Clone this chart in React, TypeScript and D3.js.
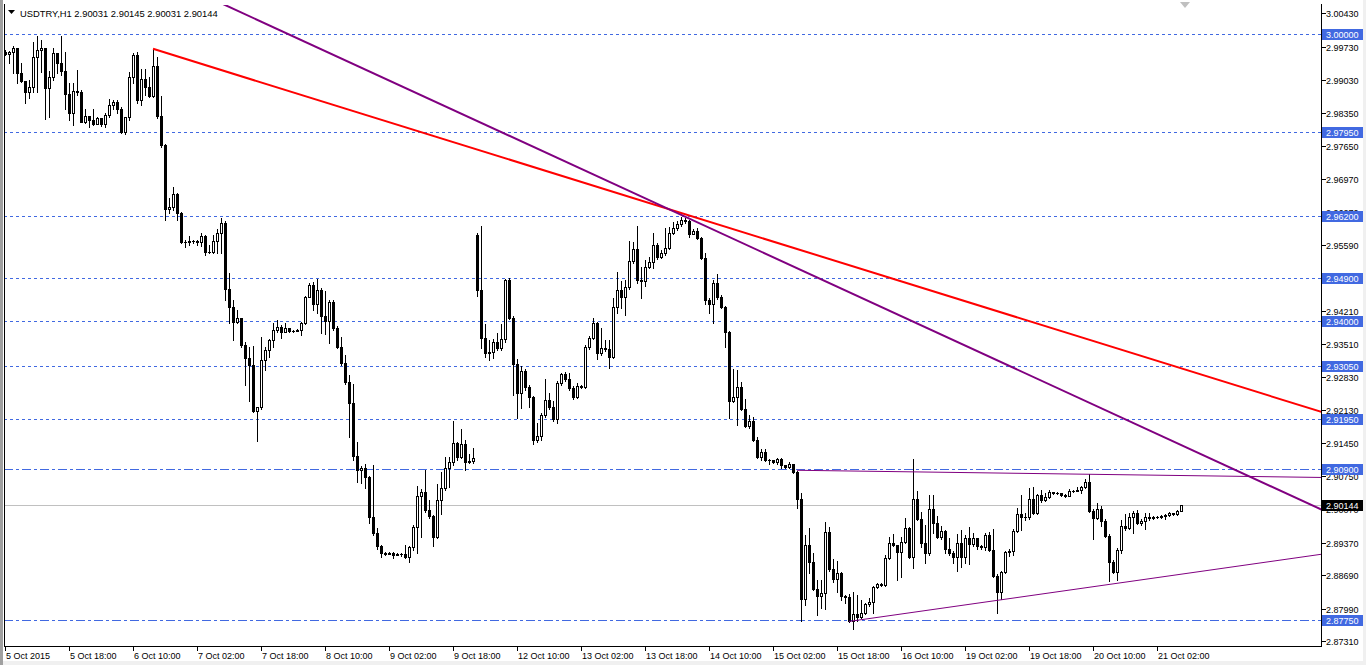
import React from 'react';
import * as d3 from 'd3';

// ---------- DATA (USDTRY, H1) ----------
const symbolTitle = 'USDTRY,H1';
const lastBarOHLC = [2.90031, 2.90145, 2.90031, 2.90144];

// opens equal the previous close, except at session starts
const sessionOpens = [
  { bar: 0, open: 2.9962 },
  { bar: 118, open: 2.958 },
  { bar: 294, open: 2.90031 },
];

const closes = [
  2.9958, 2.9962, 2.9971, 2.9918, 2.9902, 2.9879, 2.9889, 2.9952, 2.9967, 2.9971,
  2.9887, 2.991, 2.996, 2.9939, 2.9923, 2.9875, 2.9835, 2.9881, 2.9879, 2.9816,
  2.9829, 2.982, 2.9812, 2.9824, 2.9812, 2.9831, 2.9852, 2.9858, 2.9843, 2.9795,
  2.9826, 2.991, 2.9956, 2.9862, 2.9906, 2.9889, 2.987, 2.9933, 2.9829, 2.9768,
  2.9634, 2.9638, 2.9666, 2.9626, 2.9565, 2.9565, 2.9567, 2.9567, 2.9565, 2.9578,
  2.9544, 2.9544, 2.9567, 2.9584, 2.9605, 2.9467, 2.9429, 2.9398, 2.9406, 2.935,
  2.9323, 2.9308, 2.9212, 2.922, 2.9319, 2.934, 2.936, 2.9381, 2.9388, 2.9377,
  2.9385, 2.9379, 2.9379, 2.9381, 2.9396, 2.945, 2.9475, 2.9436, 2.9465, 2.9411,
  2.94, 2.944, 2.9385, 2.9346, 2.9313, 2.9273, 2.9229, 2.9118, 2.9089, 2.9093,
  2.9074, 2.899, 2.8957, 2.893, 2.8915, 2.8913, 2.8915, 2.8911, 2.8913, 2.8913,
  2.8907, 2.8928, 2.8969, 2.9034, 2.9043, 2.9005, 2.8993, 2.8949, 2.9026, 2.9051,
  2.9093, 2.9105, 2.9145, 2.9116, 2.9143, 2.9105, 2.9107, 2.9114, 2.9465, 2.9365,
  2.9333, 2.9335, 2.9356, 2.9344, 2.9362, 2.9486, 2.9406, 2.931, 2.925, 2.9296,
  2.9262, 2.9241, 2.9151, 2.916, 2.9204, 2.9235, 2.922, 2.9195, 2.9271, 2.9289,
  2.9279, 2.926, 2.9241, 2.9264, 2.9262, 2.9346, 2.9365, 2.9396, 2.9333, 2.9344,
  2.9342, 2.9325, 2.9429, 2.9465, 2.945, 2.9471, 2.9526, 2.9551, 2.9486, 2.9484,
  2.9513, 2.9523, 2.9559, 2.9534, 2.9542, 2.9553, 2.9584, 2.9594, 2.9603, 2.9611,
  2.9609, 2.9582, 2.9588, 2.9574, 2.9532, 2.9444, 2.9436, 2.9479, 2.945, 2.9429,
  2.9377, 2.9233, 2.9241, 2.9262, 2.9216, 2.9181, 2.9191, 2.9151, 2.9116, 2.9126,
  2.911, 2.911, 2.9105, 2.9112, 2.9099, 2.9095, 2.9101, 2.9085, 2.9028, 2.8819,
  2.8932, 2.8896, 2.884, 2.8825, 2.8832, 2.8959, 2.8882, 2.8861, 2.8873, 2.8825,
  2.8823, 2.8773, 2.8788, 2.8781, 2.879, 2.8809, 2.8813, 2.8844, 2.885, 2.8848,
  2.8905, 2.8936, 2.8932, 2.8917, 2.8938, 2.8967, 2.8907, 2.9028, 2.8986, 2.8936,
  2.8915, 2.9007, 2.8978, 2.8949, 2.8961, 2.8924, 2.8915, 2.8907, 2.8936, 2.8907,
  2.8947, 2.8934, 2.8947, 2.893, 2.8928, 2.8953, 2.8922, 2.8867, 2.8834, 2.8876,
  2.8917, 2.8919, 2.8961, 2.8997, 2.899, 2.899, 2.9028, 2.8999, 2.9036, 2.9026,
  2.9032, 2.9043, 2.9041, 2.9041, 2.9036, 2.9034, 2.9045, 2.9045, 2.9047, 2.9053,
  2.9064, 2.9003, 2.8988, 2.9007, 2.8982, 2.8951, 2.8896, 2.8876, 2.8922, 2.8972,
  2.8967, 2.899, 2.8999, 2.8978, 2.8982, 2.899, 2.8988, 2.899, 2.899, 2.8993,
  2.8995, 2.8999, 2.8997, 2.90031, 2.90144,
];

const highs = [
  2.9967, 2.9964, 2.9975, 2.9971, 2.9939, 2.9902, 2.9904, 2.9983, 2.9996, 2.9987,
  2.9971, 2.9923, 2.9971, 2.996, 2.9996, 2.9962, 2.9898, 2.9898, 2.9925, 2.9883,
  2.9843, 2.9829, 2.9843, 2.9826, 2.9824, 2.9835, 2.9864, 2.9862, 2.9862, 2.9847,
  2.9827, 2.9921, 2.996, 2.9962, 2.9927, 2.9927, 2.991, 2.9969, 2.9952, 2.987,
  2.977, 2.9657, 2.968, 2.9668, 2.9628, 2.9569, 2.9578, 2.9569, 2.9569, 2.9584,
  2.958, 2.9559, 2.958, 2.9592, 2.9615, 2.9609, 2.95, 2.9444, 2.9423, 2.9406,
  2.9356, 2.9346, 2.9348, 2.9221, 2.9367, 2.9346, 2.9362, 2.9396, 2.9402, 2.9392,
  2.9396, 2.9383, 2.9381, 2.9383, 2.9398, 2.9452, 2.9479, 2.9481, 2.9488, 2.9469,
  2.9463, 2.9444, 2.9444, 2.939, 2.9367, 2.9329, 2.9287, 2.9268, 2.9147, 2.9097,
  2.9101, 2.9076, 2.9099, 2.8967, 2.8932, 2.8917, 2.8917, 2.8917, 2.8915, 2.8915,
  2.8932, 2.893, 2.8974, 2.9055, 2.9049, 2.9089, 2.9026, 2.8995, 2.9059, 2.9085,
  2.9116, 2.9116, 2.9191, 2.9147, 2.9174, 2.9151, 2.9122, 2.9135, 2.9584, 2.9599,
  2.9394, 2.936, 2.9362, 2.9375, 2.9394, 2.9488, 2.949, 2.9411, 2.9321, 2.9306,
  2.93, 2.9266, 2.9243, 2.9187, 2.9208, 2.9279, 2.925, 2.9233, 2.9275, 2.9291,
  2.9294, 2.9291, 2.9264, 2.9271, 2.9266, 2.935, 2.9369, 2.9406, 2.9398, 2.9385,
  2.936, 2.936, 2.9448, 2.9503, 2.9484, 2.9486, 2.9567, 2.9565, 2.9599, 2.9513,
  2.9528, 2.9534, 2.9584, 2.9563, 2.9549, 2.9594, 2.9597, 2.9607, 2.9609, 2.9617,
  2.9615, 2.9611, 2.9592, 2.9594, 2.9576, 2.9542, 2.9448, 2.9486, 2.9498, 2.9454,
  2.9431, 2.9379, 2.93, 2.9298, 2.9273, 2.9237, 2.9204, 2.9199, 2.9158, 2.9133,
  2.9133, 2.9112, 2.9107, 2.9114, 2.9114, 2.9099, 2.9105, 2.9101, 2.9087, 2.9041,
  2.8953, 2.8967, 2.8915, 2.8859, 2.8859, 2.898, 2.897, 2.8903, 2.8898, 2.8876,
  2.8827, 2.883, 2.8834, 2.8827, 2.8817, 2.8811, 2.8821, 2.8846, 2.8852, 2.8852,
  2.8911, 2.8949, 2.8955, 2.8932, 2.8949, 2.8988, 2.897, 2.9112, 2.9045, 2.9001,
  2.8974, 2.9036, 2.9036, 2.8993, 2.8972, 2.8963, 2.8947, 2.8919, 2.8955, 2.8963,
  2.8953, 2.897, 2.8957, 2.8944, 2.8932, 2.8957, 2.8959, 2.8965, 2.8871, 2.8878,
  2.8919, 2.8924, 2.8965, 2.9009, 2.9036, 2.8999, 2.9051, 2.9053, 2.9038, 2.9047,
  2.9041, 2.9047, 2.9043, 2.9043, 2.9041, 2.9039, 2.9049, 2.9047, 2.9053, 2.9055,
  2.907, 2.908, 2.9007, 2.902, 2.9013, 2.8986, 2.8955, 2.8901, 2.8926, 2.8984,
  2.8997, 2.8999, 2.9003, 2.9005, 2.8986, 2.8999, 2.8999, 2.8993, 2.8993, 2.8995,
  2.8997, 2.9001, 2.8999, 2.9005, 2.90145,
];

const lows = [
  2.9956, 2.9939, 2.9918, 2.9898, 2.99, 2.9856, 2.9866, 2.9879, 2.9879, 2.9921,
  2.9822, 2.9826, 2.9904, 2.9918, 2.9914, 2.9843, 2.982, 2.981, 2.9872, 2.9815,
  2.9814, 2.9806, 2.981, 2.9812, 2.9808, 2.9806, 2.9826, 2.9843, 2.9835, 2.9793,
  2.9791, 2.982, 2.9898, 2.9856, 2.9852, 2.9872, 2.9868, 2.9868, 2.9824, 2.9764,
  2.9611, 2.9626, 2.9632, 2.9611, 2.9563, 2.9555, 2.9559, 2.9563, 2.9559, 2.9557,
  2.9538, 2.9542, 2.9542, 2.9542, 2.9542, 2.9444, 2.9396, 2.936, 2.9396, 2.9346,
  2.9266, 2.9233, 2.921, 2.9149, 2.9216, 2.9298, 2.9325, 2.9346, 2.9377, 2.9365,
  2.9377, 2.9377, 2.9377, 2.9379, 2.9371, 2.9394, 2.945, 2.9423, 2.9417, 2.9375,
  2.9373, 2.9354, 2.9381, 2.9344, 2.9308, 2.9268, 2.9158, 2.911, 2.9064, 2.9062,
  2.9051, 2.8978, 2.8953, 2.8923, 2.8907, 2.8911, 2.8913, 2.8905, 2.8911, 2.8909,
  2.8905, 2.8897, 2.8922, 2.8915, 2.8949, 2.9001, 2.8988, 2.893, 2.8947, 2.8997,
  2.9047, 2.9053, 2.9099, 2.911, 2.9114, 2.9089, 2.9103, 2.9103, 2.9452, 2.9344,
  2.9325, 2.9319, 2.9323, 2.934, 2.934, 2.9356, 2.9404, 2.9245, 2.9197, 2.9218,
  2.9256, 2.922, 2.9143, 2.9147, 2.9151, 2.9199, 2.9216, 2.9191, 2.9187, 2.9266,
  2.9275, 2.9256, 2.9237, 2.9239, 2.926, 2.926, 2.9342, 2.9362, 2.9321, 2.9329,
  2.9337, 2.9302, 2.9323, 2.9417, 2.9427, 2.9413, 2.9467, 2.9521, 2.9479, 2.9448,
  2.9473, 2.9511, 2.9511, 2.953, 2.9532, 2.9538, 2.9551, 2.9582, 2.959, 2.9599,
  2.9605, 2.9576, 2.9582, 2.9571, 2.953, 2.9436, 2.9417, 2.9396, 2.9446, 2.9427,
  2.9346, 2.9197, 2.9231, 2.9183, 2.9214, 2.9179, 2.9176, 2.9149, 2.9114, 2.911,
  2.9108, 2.9101, 2.9103, 2.9101, 2.9093, 2.9093, 2.9093, 2.9083, 2.9009, 2.8773,
  2.8807, 2.8873, 2.8838, 2.8786, 2.88, 2.8798, 2.8878, 2.8855, 2.8834, 2.8817,
  2.8811, 2.8771, 2.8756, 2.8773, 2.8779, 2.8788, 2.8804, 2.879, 2.8842, 2.8846,
  2.8846, 2.8903, 2.893, 2.8859, 2.8865, 2.8936, 2.8905, 2.8884, 2.8984, 2.8928,
  2.8894, 2.8911, 2.8957, 2.8947, 2.8944, 2.8915, 2.8911, 2.8894, 2.8878, 2.8886,
  2.8894, 2.8892, 2.893, 2.8923, 2.8923, 2.8922, 2.892, 2.8865, 2.879, 2.8819,
  2.8873, 2.8909, 2.8911, 2.8959, 2.8963, 2.8984, 2.8986, 2.8997, 2.8997, 2.9022,
  2.9024, 2.903, 2.9039, 2.9039, 2.9034, 2.9032, 2.9034, 2.9043, 2.9045, 2.9041,
  2.9051, 2.9001, 2.8944, 2.8986, 2.8972, 2.8949, 2.8857, 2.8873, 2.8859, 2.8915,
  2.8963, 2.8965, 2.8957, 2.8976, 2.8974, 2.8965, 2.8984, 2.8986, 2.8988, 2.8988,
  2.8986, 2.8993, 2.8995, 2.8995, 2.90031,
];

const timeLabels = [
  '5 Oct 2015', '5 Oct 18:00', '6 Oct 10:00', '7 Oct 02:00', '7 Oct 18:00',
  '8 Oct 10:00', '9 Oct 02:00', '9 Oct 18:00', '12 Oct 10:00', '13 Oct 02:00',
  '13 Oct 18:00', '14 Oct 10:00', '15 Oct 02:00', '15 Oct 18:00', '16 Oct 10:00',
  '19 Oct 02:00', '19 Oct 18:00', '20 Oct 10:00', '21 Oct 02:00',
];
const barsPerTimeLabel = 16;

const priceTicks = [
  3.0043, 2.9973, 2.9903, 2.9835, 2.9765, 2.9697, 2.9627, 2.9559, 2.9489, 2.9421,
  2.9351, 2.9283, 2.9213, 2.9145, 2.9075, 2.9007, 2.8937, 2.8869, 2.8799, 2.8731,
];

const dashedLevels = [3.0, 2.9795, 2.962, 2.949, 2.94, 2.9305, 2.9195];
const dashDotLevels = [2.909, 2.8775];
const currentPrice = 2.90144;

// trend lines: two anchor points (bar index, price)
const redTrend = [{ bar: 37, price: 2.9969 }, { bar: 169, price: 2.9626 }];
const purpleTrend = [{ bar: 169, price: 2.9622 }, { bar: 294, price: 2.9141 }];
const upperChannel = [{ bar: 198, price: 2.9088 }, { bar: 294, price: 2.9077 }];
const lowerChannel = [{ bar: 211, price: 2.8772 }, { bar: 248, price: 2.8816 }];

// ---------- CHART ----------
const W = 1366;
const H = 665;
const FRAME = { left: 4, right: 1321, top: 4, bottom: 646 };
const FONT = "'Liberation Sans', Arial, sans-serif";
const BLUE = '#4169E1';
const PURPLE = '#800080';

export default function App() {
  const x = d3.scaleLinear().domain([0, 1]).range([5, 9]);
  const y = d3.scaleLinear().domain([2.8775, 3.0]).range([620, 34]);
  const py = (p: number) => Math.round(y(p));

  const opens = closes.map((c, i) => {
    const s = sessionOpens.find((o) => o.bar === i);
    if (s) return s.open;
    return i > 0 ? closes[i - 1] : c;
  });

  const candles = closes.map((c, i) => {
    const o = opens[i];
    const h = Math.max(highs[i], o, c);
    const l = Math.min(lows[i], o, c);
    const cx = Math.round(x(i));
    const top = py(Math.max(o, c));
    const bot = py(Math.min(o, c));
    const bull = c >= o;
    const wy1 = py(h);
    const wy2 = py(l);
    return (
      <g key={i}>
        <rect x={cx} y={wy1} width={1} height={wy2 - wy1 + 1} fill="#000" />
        <rect x={cx - 1} y={top} width={3} height={bot - top + 1} fill="#000" />
        {bull && bot - top >= 2 ? (
          <rect x={cx} y={top + 1} width={1} height={bot - top - 1} fill="#fff" />
        ) : null}
      </g>
    );
  });

  const trendPath = (pts: { bar: number; price: number }[], ray: boolean) => {
    const x1 = x(pts[0].bar);
    const y1 = y(pts[0].price);
    const x2 = x(pts[1].bar);
    const y2 = y(pts[1].price);
    const k = (y2 - y1) / (x2 - x1);
    const xs = ray ? x1 : FRAME.left - 400;
    const xe = FRAME.right + 10;
    return `M${xs},${y1 + k * (xs - x1)}L${xe},${y1 + k * (xe - x1)}`;
  };

  return (
    <svg
      width={W}
      height={H}
      style={{ position: 'absolute', left: 0, top: 0, background: '#fff' }}
      fontFamily={FONT}
    >
      <defs>
        <clipPath id="plotClip">
          <rect x={FRAME.left + 1} y={FRAME.top + 1} width={FRAME.right - FRAME.left - 1} height={FRAME.bottom - FRAME.top - 1} />
        </clipPath>
      </defs>
      <rect x={0} y={0} width={W} height={H} fill="#fff" />
      <rect x={0} y={H - 4} width={W} height={4} fill="#f0f0f0" />
      <rect x={W - 3} y={0} width={3} height={H} fill="#f0f0f0" />
      <rect x={0} y={0} width={3} height={H} fill="#a0a0a0" />

      <g clipPath="url(#plotClip)" shapeRendering="crispEdges">
        {dashedLevels.map((p) => (
          <line key={'d' + p} x1={FRAME.left} x2={FRAME.right} y1={py(p) + 0.5} y2={py(p) + 0.5} stroke={BLUE} strokeWidth={1} strokeDasharray="3,3" />
        ))}
        {dashDotLevels.map((p) => (
          <line key={'dd' + p} x1={FRAME.left} x2={FRAME.right} y1={py(p) + 0.5} y2={py(p) + 0.5} stroke={BLUE} strokeWidth={1} strokeDasharray="9,3,3,3" />
        ))}
        <line x1={FRAME.left} x2={FRAME.right} y1={py(currentPrice) + 0.5} y2={py(currentPrice) + 0.5} stroke="#c0c0c0" strokeWidth={1} />
        {candles}
      </g>

      <g clipPath="url(#plotClip)">
        <path d={trendPath(redTrend, true)} stroke="#ff0000" strokeWidth={2} fill="none" />
        <path d={trendPath(purpleTrend, false)} stroke={PURPLE} strokeWidth={2} fill="none" />
        <path d={trendPath(upperChannel, true)} stroke={PURPLE} strokeWidth={1} fill="none" />
        <path d={trendPath(lowerChannel, true)} stroke={PURPLE} strokeWidth={1} fill="none" />
      </g>

      {/* frame */}
      <g shapeRendering="crispEdges">
        <line x1={FRAME.left + 0.5} x2={FRAME.left + 0.5} y1={FRAME.top} y2={FRAME.bottom + 1} stroke="#000" />
        <line x1={FRAME.right + 0.5} x2={FRAME.right + 0.5} y1={FRAME.top} y2={FRAME.bottom + 1} stroke="#000" />
        <line x1={FRAME.left} x2={FRAME.right + 1} y1={FRAME.bottom + 0.5} y2={FRAME.bottom + 0.5} stroke="#000" />
      </g>

      {/* title */}
      <path d="M8,10L15,10L11.5,14Z" fill="#000" />
      <text x={20} y={17} fontSize={9.4} fill="#000">
        {symbolTitle + '  ' + lastBarOHLC.map((v) => v.toFixed(5)).join(' ')}
      </text>
      <path d="M1180,2L1190,2L1185,8Z" fill="#c0c0c0" />

      {/* price axis */}
      <g shapeRendering="crispEdges">
        {priceTicks.map((p) => (
          <line key={'t' + p} x1={FRAME.right + 1} x2={FRAME.right + 5} y1={py(p) + 0.5} y2={py(p) + 0.5} stroke="#000" />
        ))}
      </g>
      {priceTicks.map((p) => (
        <text key={'tl' + p} x={1326} y={py(p) + 3.5} fontSize={9} fill="#000">
          {p.toFixed(5)}
        </text>
      ))}
      {dashedLevels.concat(dashDotLevels).map((p) => (
        <g key={'hl' + p}>
          <rect x={1322} y={py(p) - 5} width={41} height={11} fill={BLUE} />
          <text x={1326} y={py(p) + 3.5} fontSize={9} fill="#fff">
            {p.toFixed(5)}
          </text>
        </g>
      ))}
      <rect x={1322} y={py(currentPrice) - 5} width={41} height={11} fill="#000" />
      <text x={1326} y={py(currentPrice) + 3.5} fontSize={9} fill="#fff">
        {currentPrice.toFixed(5)}
      </text>

      {/* time axis */}
      {timeLabels.map((t, k) => {
        const tx = Math.round(x(k * barsPerTimeLabel));
        return (
          <g key={t}>
            <line x1={tx + 0.5} x2={tx + 0.5} y1={FRAME.bottom + 1} y2={FRAME.bottom + 5} stroke="#000" shapeRendering="crispEdges" />
            <text x={tx + 1} y={659} fontSize={9} fill="#000">
              {t}
            </text>
          </g>
        );
      })}
    </svg>
  );
}
